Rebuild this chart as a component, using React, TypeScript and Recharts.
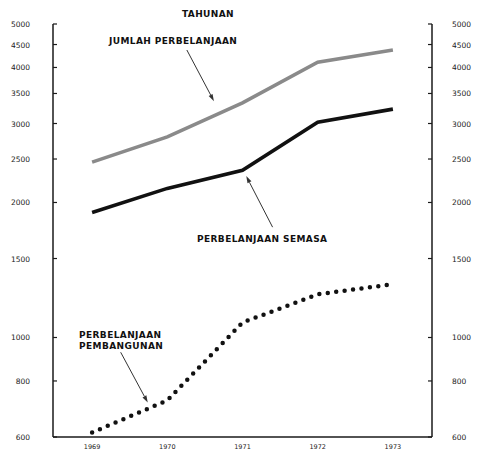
import React from "react";
import { LineChart, Line, XAxis, YAxis, ReferenceLine } from "recharts";

const years = [1969, 1970, 1971, 1972, 1973];
const jumlahPerbelanjaan = [2460, 2800, 3335, 4110, 4375];
const perbelanjaanSemasa = [1900, 2150, 2360, 3020, 3230];
const perbelanjaanPembangunan = [614, 724, 1080, 1248, 1315];
const yTicks = [600, 800, 1000, 1500, 2000, 2500, 3000, 3500, 4000, 4500, 5000];
const xTicks = [1969, 1969.5, 1970, 1970.5, 1971, 1971.5, 1972, 1972.5, 1973];

// arrow segments in data coords [year, value]
const arrowJumlah = [[1970.26, 4375], [1970.62, 3365]];
const arrowSemasa = [[1971.4, 1762], [1971.05, 2290]];
const arrowPembangunan = [[1969.38, 927], [1969.74, 716]];

const data = years.map((y, i) => ({
  year: y,
  jumlah: jumlahPerbelanjaan[i],
  semasa: perbelanjaanSemasa[i],
  pembangunan: perbelanjaanPembangunan[i],
}));

const FONT = "'DejaVu Sans', sans-serif";
const INK = "#1a1a1a";

function Arrow(props: any) {
  const { x1, y1, x2, y2 } = props;
  const a = Math.atan2(y2 - y1, x2 - x1);
  const len = 7;
  const w = 2.2;
  const bx = x2 - len * Math.cos(a);
  const by = y2 - len * Math.sin(a);
  const px = -Math.sin(a) * w;
  const py = Math.cos(a) * w;
  return (
    <g>
      <line x1={x1} y1={y1} x2={bx} y2={by} stroke="#333" strokeWidth={1} />
      <polygon points={`${x2},${y2} ${bx + px},${by + py} ${bx - px},${by - py}`} fill="#333" />
    </g>
  );
}

function LeftTick(props: any) {
  const { x, y, payload } = props;
  return (
    <g>
      <line x1={x} y1={y} x2={x + 4} y2={y} stroke={INK} strokeWidth={1.2} />
      <text x={x - 23} y={y} dy={3} textAnchor="end" fontSize={7.5} fontFamily={FONT} fill="#222">
        {payload.value}
      </text>
    </g>
  );
}

function RightTick(props: any) {
  const { x, y, payload } = props;
  return (
    <g>
      <line x1={x} y1={y} x2={x - 4} y2={y} stroke={INK} strokeWidth={1.2} />
      <text x={x + 20} y={y} dy={3} textAnchor="start" fontSize={7.5} fontFamily={FONT} fill="#222">
        {payload.value}
      </text>
    </g>
  );
}

function BottomTick(props: any) {
  const { x, y, payload } = props;
  if (Number.isInteger(payload.value)) {
    return (
      <text x={x} y={y} dy={12} textAnchor="middle" fontSize={6.5} fontFamily={FONT} fill="#222">
        {payload.value}
      </text>
    );
  }
  return <line x1={x} y1={y} x2={x} y2={y - 4} stroke={INK} strokeWidth={1.2} />;
}

const seg = (s: number[][]) => [
  { x: s[0][0], y: s[0][1] },
  { x: s[1][0], y: s[1][1] },
];

export default function App() {
  return (
    <div style={{ position: "absolute", left: 0, top: 0, width: 478, height: 452, background: "#fff" }}>
      <LineChart width={478} height={452} data={data} margin={{ top: 24, right: 0, bottom: 0, left: 0 }}>
        <XAxis
          dataKey="year"
          type="number"
          domain={[1968.48, 1973.52]}
          ticks={xTicks}
          tick={<BottomTick />}
          tickLine={false}
          tickSize={0}
          tickMargin={0}
          height={15}
          axisLine={{ stroke: INK, strokeWidth: 1.5 }}
        />
        <YAxis
          yAxisId="left"
          scale="log"
          type="number"
          domain={[600, 5000]}
          allowDataOverflow
          ticks={yTicks}
          interval={0}
          width={53}
          tick={<LeftTick />}
          tickLine={false}
          tickSize={0}
          tickMargin={0}
          axisLine={{ stroke: INK, strokeWidth: 1.5 }}
        />
        <YAxis
          yAxisId="right"
          orientation="right"
          scale="log"
          type="number"
          domain={[600, 5000]}
          allowDataOverflow
          ticks={yTicks}
          interval={0}
          width={46}
          tick={<RightTick />}
          tickLine={false}
          tickSize={0}
          tickMargin={0}
          axisLine={{ stroke: INK, strokeWidth: 1.5 }}
        />
        <Line
          yAxisId="left"
          dataKey="jumlah"
          type="linear"
          stroke="#8a8a8a"
          strokeWidth={3.6}
          dot={false}
          isAnimationActive={false}
        />
        <Line
          yAxisId="left"
          dataKey="semasa"
          type="linear"
          stroke="#111"
          strokeWidth={3.6}
          dot={false}
          isAnimationActive={false}
        />
        <Line
          yAxisId="left"
          dataKey="pembangunan"
          type="linear"
          stroke="#111"
          strokeWidth={4.5}
          strokeLinecap="round"
          strokeDasharray="0 8.5"
          dot={false}
          isAnimationActive={false}
        />
        <ReferenceLine yAxisId="left" segment={seg(arrowJumlah)} shape={<Arrow />} ifOverflow="visible" />
        <ReferenceLine yAxisId="left" segment={seg(arrowSemasa)} shape={<Arrow />} ifOverflow="visible" />
        <ReferenceLine yAxisId="left" segment={seg(arrowPembangunan)} shape={<Arrow />} ifOverflow="visible" />
      </LineChart>
      <svg
        width={478}
        height={452}
        style={{ position: "absolute", left: 0, top: 0, pointerEvents: "none" }}
        fontFamily={FONT}
        fontWeight="bold"
        fill="#111"
        letterSpacing={0.4}
      >
        <text x={208} y={16.5} textAnchor="middle" fontSize={9}>TAHUNAN</text>
        <text x={109} y={43.5} fontSize={9}>JUMLAH PERBELANJAAN</text>
        <text x={197} y={241.5} fontSize={9}>PERBELANJAAN SEMASA</text>
        <text x={79} y={338} fontSize={9}>PERBELANJAAN</text>
        <text x={79} y={349} fontSize={9}>PEMBANGUNAN</text>
      </svg>
    </div>
  );
}
